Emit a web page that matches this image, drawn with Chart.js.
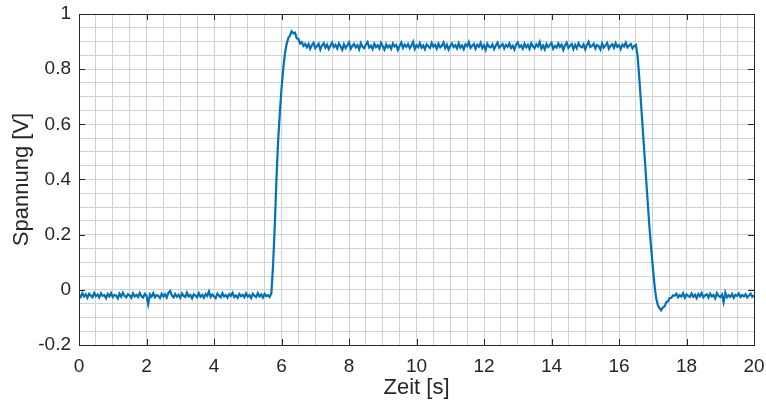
<!DOCTYPE html>
<html><head><meta charset="utf-8">
<script src="https://cdn.jsdelivr.net/npm/chart.js@4/dist/chart.umd.min.js"></script>
<style>html,body{margin:0;padding:0;background:#fff}#wrap{width:766px;height:407px}</style>
</head><body><div id="wrap"><canvas id="c" width="766" height="407"></canvas></div>
<script>
// Sample times [s]
const zeit = [
0,0.05,0.1,0.15,0.2,0.25,0.3,0.35,0.4,0.45,0.5,0.55,0.6,0.65,0.7,0.75,0.8,0.85,0.9,0.95,
1,1.05,1.1,1.15,1.2,1.25,1.3,1.35,1.4,1.45,1.5,1.55,1.6,1.65,1.7,1.75,1.8,1.85,1.9,1.95,
2,2.05,2.1,2.15,2.2,2.25,2.3,2.35,2.4,2.45,2.5,2.55,2.6,2.65,2.7,2.75,2.8,2.85,2.9,2.95,
3,3.05,3.1,3.15,3.2,3.25,3.3,3.35,3.4,3.45,3.5,3.55,3.6,3.65,3.7,3.75,3.8,3.85,3.9,3.95,
4,4.05,4.1,4.15,4.2,4.25,4.3,4.35,4.4,4.45,4.5,4.55,4.6,4.65,4.7,4.75,4.8,4.85,4.9,4.95,
5,5.05,5.1,5.15,5.2,5.25,5.3,5.35,5.4,5.45,5.5,5.55,5.6,5.65,5.7,5.75,5.8,5.85,5.9,5.95,
6,6.05,6.1,6.15,6.2,6.25,6.3,6.35,6.4,6.45,6.5,6.55,6.6,6.65,6.7,6.75,6.8,6.85,6.9,6.95,
7,7.05,7.1,7.15,7.2,7.25,7.3,7.35,7.4,7.45,7.5,7.55,7.6,7.65,7.7,7.75,7.8,7.85,7.9,7.95,
8,8.05,8.1,8.15,8.2,8.25,8.3,8.35,8.4,8.45,8.5,8.55,8.6,8.65,8.7,8.75,8.8,8.85,8.9,8.95,
9,9.05,9.1,9.15,9.2,9.25,9.3,9.35,9.4,9.45,9.5,9.55,9.6,9.65,9.7,9.75,9.8,9.85,9.9,9.95,
10,10.05,10.1,10.15,10.2,10.25,10.3,10.35,10.4,10.45,10.5,10.55,10.6,10.65,10.7,10.75,10.8,10.85,10.9,10.95,
11,11.05,11.1,11.15,11.2,11.25,11.3,11.35,11.4,11.45,11.5,11.55,11.6,11.65,11.7,11.75,11.8,11.85,11.9,11.95,
12,12.05,12.1,12.15,12.2,12.25,12.3,12.35,12.4,12.45,12.5,12.55,12.6,12.65,12.7,12.75,12.8,12.85,12.9,12.95,
13,13.05,13.1,13.15,13.2,13.25,13.3,13.35,13.4,13.45,13.5,13.55,13.6,13.65,13.7,13.75,13.8,13.85,13.9,13.95,
14,14.05,14.1,14.15,14.2,14.25,14.3,14.35,14.4,14.45,14.5,14.55,14.6,14.65,14.7,14.75,14.8,14.85,14.9,14.95,
15,15.05,15.1,15.15,15.2,15.25,15.3,15.35,15.4,15.45,15.5,15.55,15.6,15.65,15.7,15.75,15.8,15.85,15.9,15.95,
16,16.05,16.1,16.15,16.2,16.25,16.3,16.35,16.4,16.45,16.5,16.55,16.6,16.65,16.7,16.75,16.8,16.85,16.9,16.95,
17,17.05,17.1,17.15,17.2,17.25,17.3,17.35,17.4,17.45,17.5,17.55,17.6,17.65,17.7,17.75,17.8,17.85,17.9,17.95,
18,18.05,18.1,18.15,18.2,18.25,18.3,18.35,18.4,18.45,18.5,18.55,18.6,18.65,18.7,18.75,18.8,18.85,18.9,18.95,
19,19.05,19.1,19.15,19.2,19.25,19.3,19.35,19.4,19.45,19.5,19.55,19.6,19.65,19.7,19.75,19.8,19.85,19.9,19.95,
20
];
// Measured voltage [V]
const spannung = [
-0.018,-0.026,-0.012,-0.024,-0.016,-0.029,-0.014,-0.021,-0.027,-0.011,
-0.023,-0.017,-0.028,-0.013,-0.022,-0.019,-0.030,-0.015,-0.024,-0.012,
-0.026,-0.018,-0.021,-0.031,-0.014,-0.025,-0.010,-0.022,-0.027,-0.016,
-0.020,-0.029,-0.013,-0.024,-0.018,-0.026,-0.011,-0.023,-0.028,-0.015,
-0.021,-0.052,-0.017,-0.025,-0.012,-0.027,-0.019,-0.022,-0.030,-0.014,
-0.024,-0.016,-0.028,-0.011,-0.004,-0.020,-0.027,-0.015,-0.025,-0.018,
-0.029,-0.013,-0.022,-0.026,-0.010,-0.024,-0.019,-0.031,-0.016,-0.021,
-0.027,-0.012,-0.025,-0.018,-0.029,-0.015,-0.022,-0.006,-0.026,-0.017,
-0.023,-0.030,-0.014,-0.021,-0.027,-0.012,-0.024,-0.019,-0.028,-0.016,
-0.022,-0.011,-0.026,-0.020,-0.029,-0.015,-0.023,-0.018,-0.027,-0.013,
-0.025,-0.019,-0.030,-0.014,-0.022,-0.026,-0.012,-0.024,-0.017,-0.028,
-0.015,-0.023,-0.019,-0.026,
-0.012,0.09,0.23,0.40,0.54,0.64,0.73,0.80,0.855,0.89,
0.912,0.922,0.937,0.930,0.932,0.912,0.910,0.893,0.898,0.884,0.891,
0.879,0.891,0.874,0.887,0.895,0.876,0.883,0.892,0.871,0.886,
0.894,0.878,0.889,0.873,0.885,0.896,0.880,0.888,0.875,0.893,
0.882,0.870,0.890,0.877,0.886,0.897,0.874,0.884,0.891,0.879,
0.887,0.872,0.894,0.881,0.876,0.889,0.898,0.878,0.885,0.873,
0.892,0.880,0.887,0.875,0.895,0.883,0.871,0.890,0.879,0.886,
0.874,0.893,0.882,0.888,0.870,0.884,0.896,0.877,0.889,0.881,
0.891,0.876,0.885,0.899,0.873,0.887,0.880,0.894,0.878,0.886,
0.872,0.890,0.883,0.877,0.895,0.881,0.888,0.874,0.892,0.879,
0.885,0.897,0.876,0.889,0.871,0.884,0.893,0.880,0.887,0.875,
0.894,0.878,0.886,0.872,0.890,0.883,0.898,0.877,0.885,0.891,
0.874,0.888,0.881,0.895,0.876,0.887,0.870,0.892,0.882,0.879,
0.890,0.873,0.886,0.896,0.878,0.884,0.891,0.875,0.888,0.881,
0.893,0.877,0.885,0.871,0.889,0.897,0.880,0.886,0.874,0.892,
0.879,0.888,0.873,0.894,0.883,0.876,0.890,0.882,0.898,0.875,
0.886,0.872,0.891,0.880,0.887,0.895,0.874,0.884,0.878,0.893,
0.881,0.889,0.870,0.886,0.896,0.877,0.885,0.891,0.873,0.888,
0.876,0.894,0.882,0.879,0.890,0.872,0.887,0.899,0.880,0.884,
0.892,0.875,0.888,0.883,0.871,0.893,0.878,0.886,0.895,0.874,
0.885,0.890,0.877,0.894,0.881,0.887,0.873,0.889,0.882,0.896,
0.879,0.886,0.891,0.875,0.884,0.888,
0.85,0.77,0.68,0.59,0.50,0.41,0.32,0.23,0.155,0.085,0.02,
-0.03,-0.055,-0.066,-0.074,-0.064,-0.060,-0.045,-0.042,-0.030,-0.029,-0.020,
-0.021,-0.014,-0.027,-0.019,-0.024,-0.012,-0.029,-0.017,-0.022,-0.026,
-0.013,-0.025,-0.018,-0.030,-0.015,-0.023,-0.011,-0.027,-0.020,-0.016,
-0.028,-0.014,-0.024,-0.019,-0.031,-0.012,-0.022,-0.026,-0.017,-0.045,
-0.010,-0.027,-0.020,-0.025,-0.015,-0.029,-0.018,-0.022,-0.013,-0.026,
-0.019,-0.024,-0.016,-0.028,-0.021,-0.014,-0.025,-0.020
];
const xMajorTicks = [0,2,4,6,8,10,12,14,16,18,20];
const yMajorTicks = [-0.2,0,0.2,0.4,0.6,0.8,1];
const xMinorStep = 0.5;
const yMinorStep = 0.05;
const xTitle = 'Zeit [s]';
const yTitle = 'Spannung [V]';

const FONT = '"Liberation Sans", Arial, Helvetica, sans-serif';
const TXT = '#262626';

function gridValues(majors, step) {
  const lo = majors[0], hi = majors[majors.length - 1];
  const n = Math.round((hi - lo) / step);
  const out = [];
  for (let k = 0; k <= n; k++) out.push(+(lo + k * step).toFixed(6));
  return out;
}
const xGrid = gridValues(xMajorTicks, xMinorStep);
const yGrid = gridValues(yMajorTicks, yMinorStep);
const isMajor = (list, v) => list.some(m => Math.abs(m - v) < 1e-6);
const fmt = v => String(+(+v).toFixed(1));

const frame = {
  id: 'frame',
  afterDraw(chart) {
    const {ctx, chartArea: a, scales: {x, y}} = chart;
    ctx.save();
    ctx.strokeStyle = TXT;
    ctx.lineWidth = 1;
    ctx.beginPath();
    const L = 6;
    xMajorTicks.forEach(v => {
      const px = Math.round(x.getPixelForValue(v)) + 0.5;
      ctx.moveTo(px, a.bottom); ctx.lineTo(px, a.bottom - L);
      ctx.moveTo(px, a.top); ctx.lineTo(px, a.top + L);
    });
    yMajorTicks.forEach(v => {
      const py = Math.round(y.getPixelForValue(v)) + 0.5;
      ctx.moveTo(a.left, py); ctx.lineTo(a.left + L, py);
      ctx.moveTo(a.right, py); ctx.lineTo(a.right - L, py);
    });
    ctx.stroke();
    ctx.strokeRect(Math.round(a.left) + 0.5, Math.round(a.top) + 0.5,
                   Math.round(a.right) - Math.round(a.left), Math.round(a.bottom) - Math.round(a.top));
    ctx.restore();
  }
};

new Chart(document.getElementById('c'), {
  type: 'line',
  data: {
    datasets: [{
      data: zeit.map((t, i) => ({x: t, y: spannung[i]})),
      borderColor: '#0072BD',
      borderWidth: 2.2,
      pointRadius: 0,
      tension: 0,
      fill: false
    }]
  },
  options: {
    responsive: false,
    animation: false,
    devicePixelRatio: 1,
    layout: {padding: {top: 14, right: 12, bottom: 0, left: 0}},
    plugins: {legend: {display: false}, tooltip: {enabled: false}},
    scales: {
      x: {
        type: 'linear', min: 0, max: 20, position: 'bottom',
        afterBuildTicks: s => { s.ticks = xGrid.map(v => ({value: v})); },
        afterFit: s => { s.height = 62; s.paddingLeft = 0; s.paddingRight = 0; },
        ticks: {
          autoSkip: false, maxRotation: 0, minRotation: 0, padding: 10,
          color: TXT, font: {family: FONT, size: 19},
          callback: v => isMajor(xMajorTicks, v) ? fmt(v) : ''
        },
        grid: {color: '#d2d2d2', lineWidth: 1, drawTicks: false},
        border: {display: false},
        title: {display: true, text: xTitle, color: TXT, font: {family: FONT, size: 22},
                padding: {top: 0, bottom: 6}}
      },
      y: {
        type: 'linear', min: -0.2, max: 1, position: 'left',
        afterBuildTicks: s => { s.ticks = yGrid.map(v => ({value: v})); },
        afterFit: s => { s.width = 79; s.paddingTop = 0; s.paddingBottom = 0; },
        ticks: {
          autoSkip: false, padding: 8,
          color: TXT, font: {family: FONT, size: 19},
          callback: v => isMajor(yMajorTicks, v) ? fmt(v) : ''
        },
        grid: {color: '#d2d2d2', lineWidth: 1, drawTicks: false},
        border: {display: false},
        title: {display: true, text: yTitle, color: TXT, font: {family: FONT, size: 22},
                padding: {top: 9, bottom: 0}}
      }
    }
  },
  plugins: [frame]
});
</script>
</body></html>
